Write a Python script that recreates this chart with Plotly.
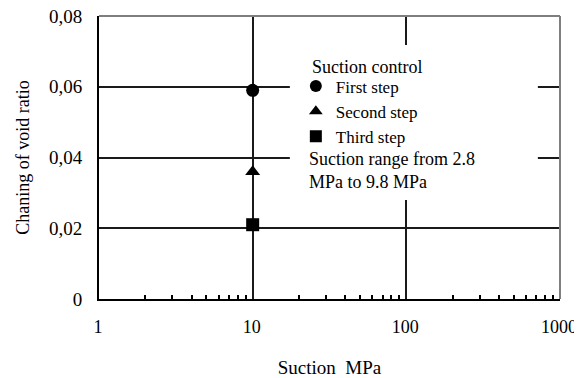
import plotly.graph_objects as go

# Data
steps = ["First step", "Second step", "Third step"]
suction = [10, 10, 10]
void_change = [0.059, 0.036, 0.021]
symbols = ["circle", "triangle-up", "square"]

y_ticks = [0, 0.02, 0.04, 0.06, 0.08]
y_ticktext = ["0", "0,02", "0,04", "0,06", "0,08"]
x_ticks = [1, 10, 100, 1000]
x_ticktext = ["1", "10", "100", "1000"]
x_minor = [2, 3, 4, 5, 6, 7, 8, 9, 20, 30, 40, 50, 60, 70, 80, 90,
           200, 300, 400, 500, 600, 700, 800, 900]

FONT = "Liberation Serif"

fig = go.Figure()
for name, xv, yv, sym in zip(steps, suction, void_change, symbols):
    fig.add_trace(go.Scatter(
        x=[xv], y=[yv], mode="markers", name=name,
        marker=dict(symbol=sym, size=13, color="black"),
    ))

fig.update_layout(
    width=574, height=370,
    margin=dict(l=91, r=22, t=8, b=79, autoexpand=False),
    paper_bgcolor="white", plot_bgcolor="white",
    font=dict(family=FONT, size=18, color="black"),
    showlegend=True,
    legend=dict(
        x=0.427, y=0.8145, xanchor="left", yanchor="top",
        bgcolor="white", borderwidth=0,
        font=dict(family=FONT, size=17), tracegroupgap=0, itemsizing="constant",
    ),
    xaxis=dict(
        type="log", range=[0, 3], automargin=False,
        tickvals=x_ticks, ticktext=x_ticktext,
        ticks="", showgrid=True, gridcolor="#1a1a1a", gridwidth=1.5,
        showline=True, linecolor="black", linewidth=2,
        tickfont=dict(family=FONT, size=18), ticklabelstandoff=10,
        ticklabelshift=-1, ticklabeloverflow="allow",
        minor=dict(tickmode="array", tickvals=x_minor, ticks="inside",
                   ticklen=4, tickcolor="black", tickwidth=1.5, showgrid=False),
        title=dict(text="Suction  MPa", font=dict(family=FONT, size=19), standoff=27),
        zeroline=False,
    ),
    yaxis=dict(
        range=[0, 0.08], automargin=False,
        tickvals=y_ticks, ticktext=y_ticktext,
        ticks="", showgrid=True, gridcolor="#1a1a1a", gridwidth=1.5,
        showline=True, linecolor="black", linewidth=2,
        tickfont=dict(family=FONT, size=19), ticklabelstandoff=11,
        ticklabeloverflow="allow",
        title=dict(text="Chaning of void ratio", font=dict(family=FONT, size=18)),
        zeroline=False,
    ),
    shapes=[
        # white box behind the legend text (interrupts the grid, as in the original)
        dict(type="rect", xref="paper", yref="paper", x0=0.414, x1=0.952,
             y0=0.35, y1=0.8975, fillcolor="white", line=dict(width=0),
             layer="above"),
        dict(type="line", xref="paper", yref="paper", x0=0, x1=1, y0=1, y1=1,
             line=dict(color="#7f7f7f", width=2)),
        dict(type="line", xref="paper", yref="paper", x0=1, x1=1, y0=0, y1=1,
             line=dict(color="#7f7f7f", width=2)),
    ],
    annotations=[
        dict(text="Suction control",
             xref="paper", yref="paper", x=0.451, y=0.820,
             xanchor="left", yanchor="middle", align="left", showarrow=False,
             borderpad=4, font=dict(family=FONT, size=18)),
        dict(text="Suction range from 2.8<br>MPa to 9.8 MPa",
             xref="paper", yref="paper", x=0.453, y=0.534,
             xanchor="left", yanchor="top", align="left", showarrow=False,
             borderpad=0, font=dict(family=FONT, size=18)),
    ],
)

fig.write_html("out.html")
